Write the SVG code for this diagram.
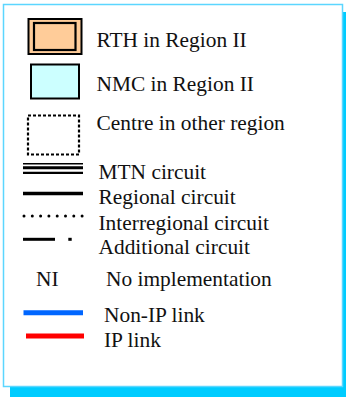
<svg xmlns="http://www.w3.org/2000/svg" width="346" height="397" viewBox="0 0 346 397">
  <style>
    text { font-family: "Liberation Serif", "Times New Roman", serif; font-size: 21.4px; fill: #111111; }
    .frame { fill: #ffffff; stroke: #5cd6ff; stroke-width: 1.5; }
    .shadow { fill: #00ccff; }
    .ink { stroke: #000000; fill: none; }
  </style>

  <!-- legend panel with drop shadow -->
  <g id="panel">
    <rect class="shadow" x="10" y="12" width="336" height="385"/>
    <rect class="frame" x="3.5" y="4.5" width="339" height="382"/>
  </g>

  <!-- node symbols -->
  <g id="rth">
    <rect x="28.5" y="19" width="53" height="35" fill="#ffcc99" stroke="#000" stroke-width="2"/>
    <rect x="34" y="23" width="41.5" height="27" fill="none" stroke="#000" stroke-width="2.2"/>
    <text x="96.5" y="47">RTH in Region II</text>
  </g>
  <g id="nmc">
    <rect x="31" y="64.5" width="48" height="34" fill="#ccffff" stroke="#000" stroke-width="2"/>
    <text x="96.5" y="91">NMC in Region II</text>
  </g>
  <g id="other-centre">
    <rect x="28" y="115.5" width="51" height="39" fill="none" stroke="#000" stroke-width="2.2" stroke-dasharray="3 2"/>
    <text x="96.5" y="130">Centre in other region</text>
  </g>

  <!-- circuit and link styles -->
  <g id="connectors">
    <g id="mtn">
      <line class="ink" x1="23" y1="163.8" x2="83" y2="163.8" stroke-width="1.6"/>
      <line class="ink" x1="23" y1="167.8" x2="83" y2="167.8" stroke-width="3"/>
      <line class="ink" x1="23" y1="172.8" x2="83" y2="172.8" stroke-width="2.2"/>
    </g>
    <line id="regional" class="ink" x1="23" y1="193.5" x2="83" y2="193.5" stroke-width="3.5"/>
    <line id="interregional" class="ink" x1="24" y1="216" x2="83" y2="216" stroke-width="3" stroke-linecap="round" stroke-dasharray="0 8.3"/>
    <g id="additional">
      <line class="ink" x1="23" y1="239.3" x2="55" y2="239.3" stroke-width="3"/>
      <line class="ink" x1="68.3" y1="239.3" x2="71.7" y2="239.3" stroke-width="3"/>
    </g>
    <line id="non-ip" x1="23.5" y1="312.7" x2="83" y2="312.7" stroke="#0066ff" stroke-width="5"/>
    <line id="ip" x1="26" y1="336" x2="84" y2="336" stroke="#ff0000" stroke-width="5"/>
  </g>

  <g id="labels">
    <text x="98.5" y="179.3">MTN circuit</text>
    <text x="98.5" y="204">Regional circuit</text>
    <text x="98.5" y="230">Interregional circuit</text>
    <text x="98.5" y="254">Additional circuit</text>
    <text x="36" y="286">NI</text>
    <text x="106" y="286">No implementation</text>
    <text x="104" y="321.7">Non-IP link</text>
    <text x="104" y="347.3">IP link</text>
  </g>
</svg>
